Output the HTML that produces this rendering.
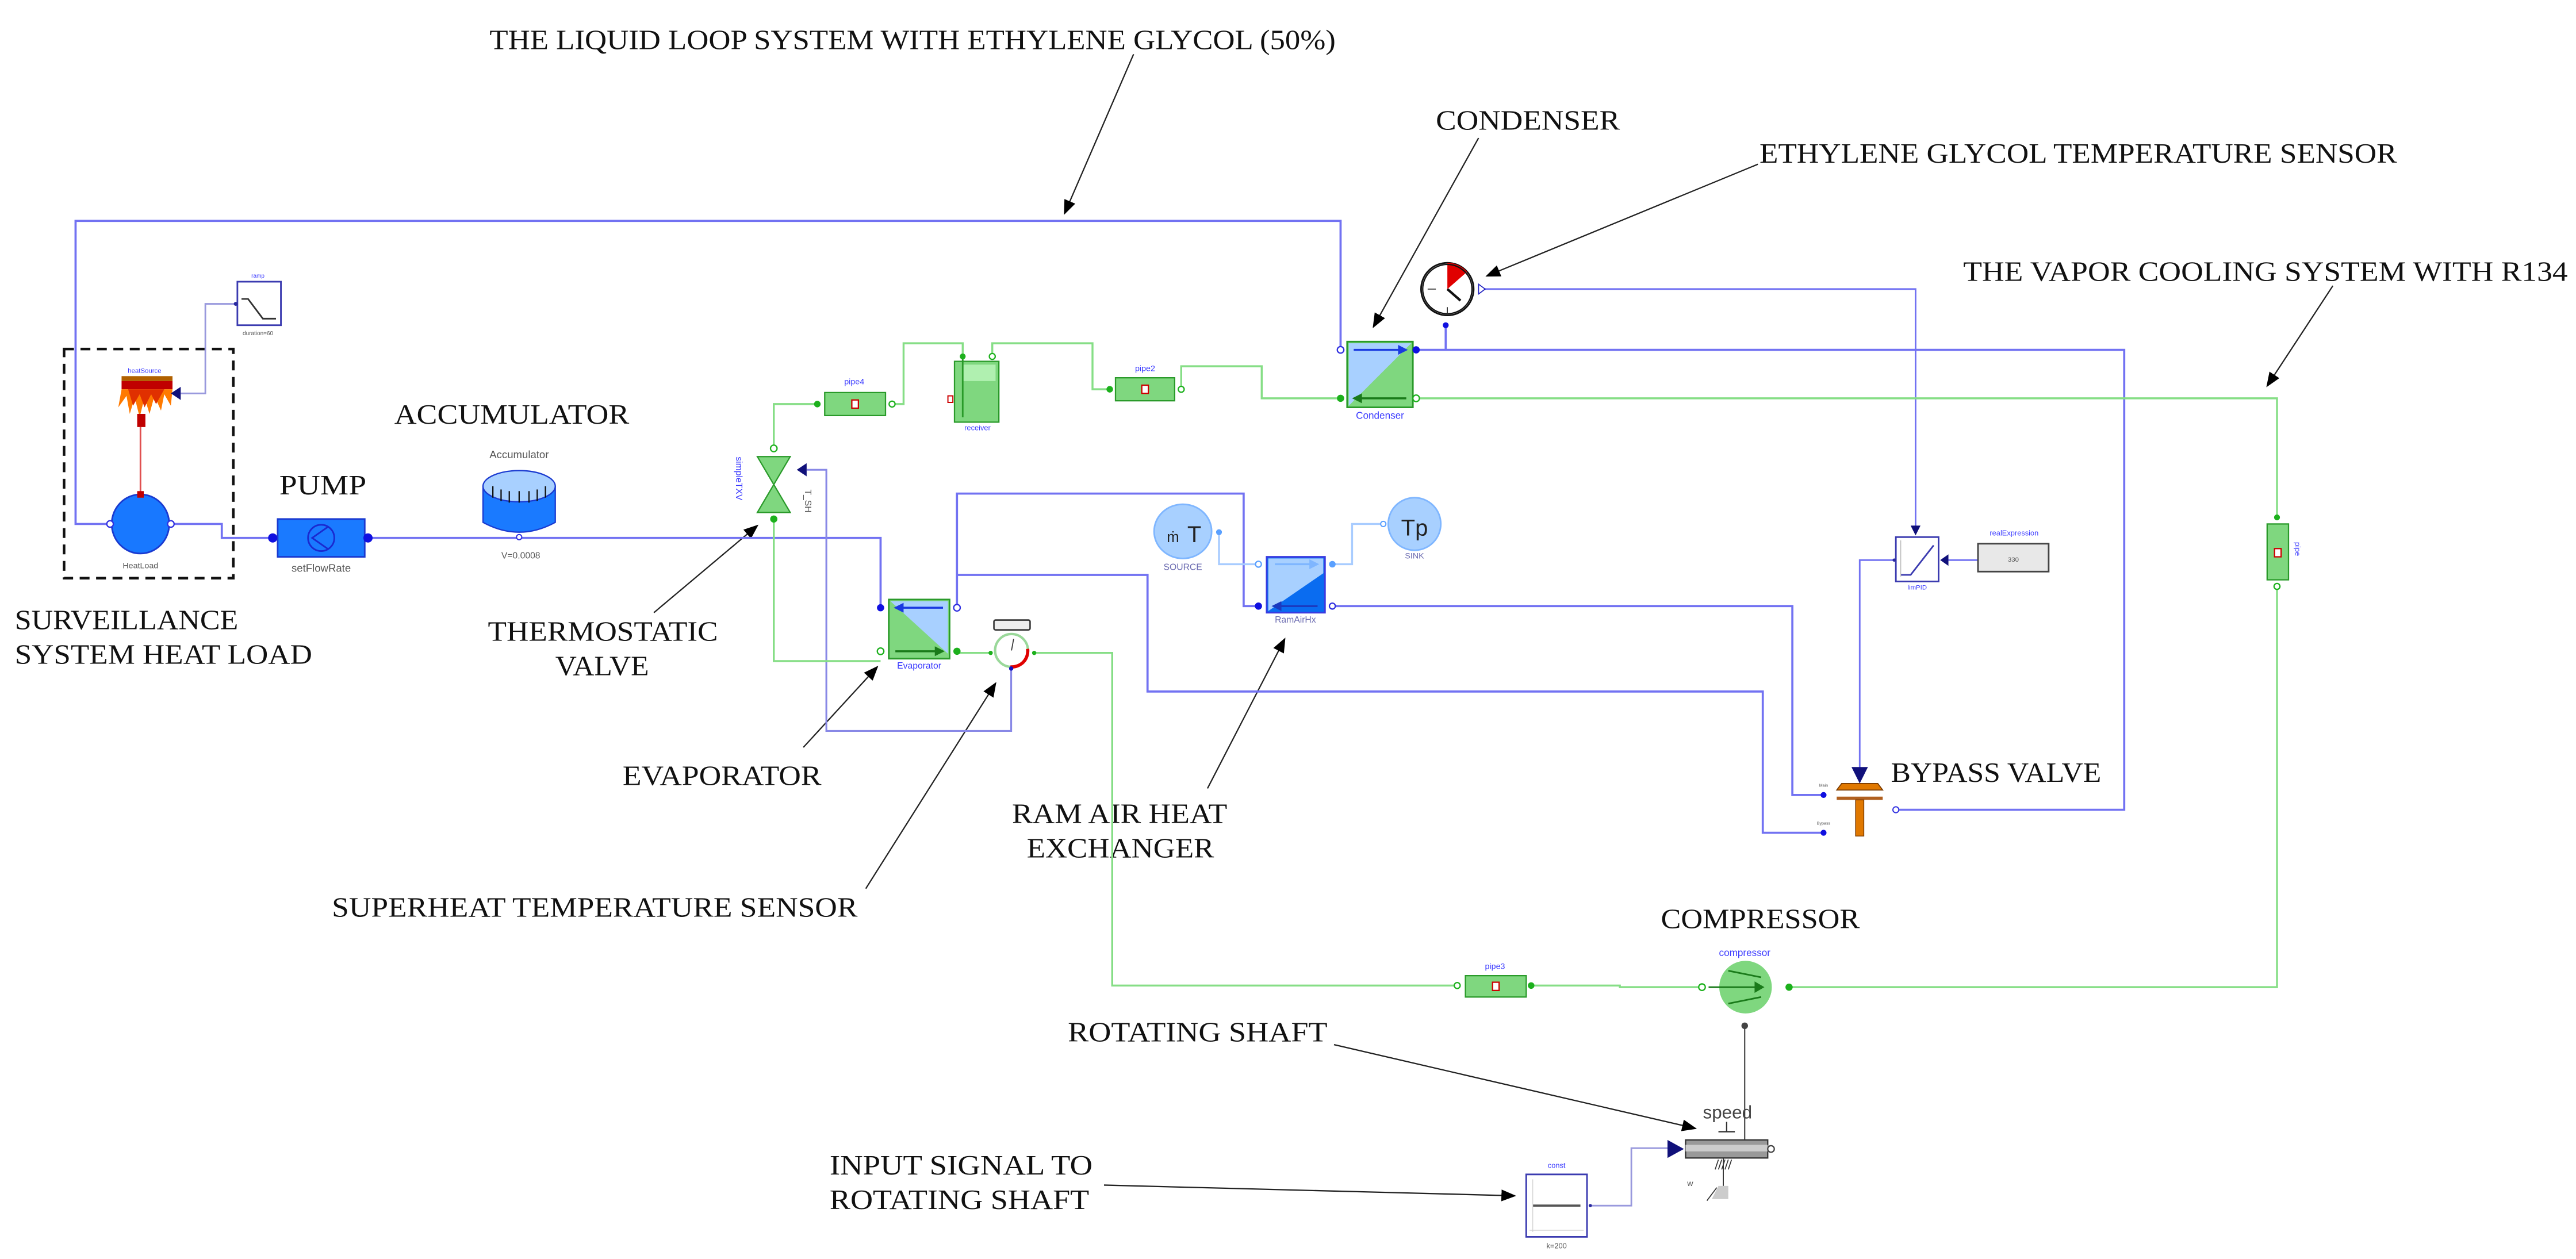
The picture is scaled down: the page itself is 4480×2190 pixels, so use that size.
<!DOCTYPE html>
<html><head><meta charset="utf-8"><style>
html,body{margin:0;padding:0;background:#fff;}
svg{display:block;}
.t{font-family:"Liberation Serif",serif;font-size:17px;fill:#111;}
.s{font-family:"Liberation Sans",sans-serif;fill:#3a3aff;}
.g{font-family:"Liberation Sans",sans-serif;fill:#555;}
.bl{stroke:#7272f2;stroke-width:1.3;fill:none;}
.gr{stroke:#86de86;stroke-width:1.2;fill:none;}
.lb{stroke:#a8ccff;stroke-width:1.2;fill:none;}
.ar{stroke:#222;stroke-width:0.8;fill:none;}
</style></head><body>
<svg width="4480" height="2190" viewBox="0 0 1568 766.5" xmlns="http://www.w3.org/2000/svg">
<defs>
<marker id="ah" viewBox="0 0 10 10" refX="9" refY="5" markerWidth="9" markerHeight="9" markerUnits="userSpaceOnUse" orient="auto"><path d="M0,1 L10,5 L0,9 z" fill="#000"/></marker>
</defs>
<rect width="1568" height="766.5" fill="#fff"/>

<!-- annotation texts -->
<text class="t" x="298" y="30" textLength="515" lengthAdjust="spacingAndGlyphs">THE LIQUID LOOP SYSTEM WITH ETHYLENE GLYCOL (50%)</text>
<text class="t" x="874" y="79" textLength="112" lengthAdjust="spacingAndGlyphs">CONDENSER</text>
<text class="t" x="1071" y="99" textLength="388" lengthAdjust="spacingAndGlyphs">ETHYLENE GLYCOL TEMPERATURE SENSOR</text>
<text class="t" x="1195" y="171" textLength="368" lengthAdjust="spacingAndGlyphs">THE VAPOR COOLING SYSTEM WITH R134</text>
<text class="t" x="240" y="258" textLength="143" lengthAdjust="spacingAndGlyphs">ACCUMULATOR</text>
<text class="t" x="170" y="301" textLength="53" lengthAdjust="spacingAndGlyphs">PUMP</text>
<text class="t" x="9" y="383" textLength="136" lengthAdjust="spacingAndGlyphs">SURVEILLANCE</text>
<text class="t" x="9" y="404" textLength="181" lengthAdjust="spacingAndGlyphs">SYSTEM HEAT LOAD</text>
<text class="t" x="297" y="390" textLength="140" lengthAdjust="spacingAndGlyphs">THERMOSTATIC</text>
<text class="t" x="338" y="411" textLength="57" lengthAdjust="spacingAndGlyphs">VALVE</text>
<text class="t" x="379" y="478" textLength="121" lengthAdjust="spacingAndGlyphs">EVAPORATOR</text>
<text class="t" x="616" y="501" textLength="131" lengthAdjust="spacingAndGlyphs">RAM AIR HEAT</text>
<text class="t" x="625" y="522" textLength="114" lengthAdjust="spacingAndGlyphs">EXCHANGER</text>
<text class="t" x="202" y="558" textLength="320" lengthAdjust="spacingAndGlyphs">SUPERHEAT TEMPERATURE SENSOR</text>
<text class="t" x="1151" y="476" textLength="128" lengthAdjust="spacingAndGlyphs">BYPASS VALVE</text>
<text class="t" x="1011" y="565" textLength="121" lengthAdjust="spacingAndGlyphs">COMPRESSOR</text>
<text class="t" x="650" y="634" textLength="158" lengthAdjust="spacingAndGlyphs">ROTATING SHAFT</text>
<text class="t" x="505" y="715" textLength="160" lengthAdjust="spacingAndGlyphs">INPUT SIGNAL TO</text>
<text class="t" x="505" y="736" textLength="158" lengthAdjust="spacingAndGlyphs">ROTATING SHAFT</text>

<!-- annotation arrows -->
<line class="ar" x1="690" y1="33" x2="648" y2="130" marker-end="url(#ah)"/>
<line class="ar" x1="900" y1="84" x2="836" y2="199" marker-end="url(#ah)"/>
<line class="ar" x1="1070" y1="100" x2="905" y2="168" marker-end="url(#ah)"/>
<line class="ar" x1="1420" y1="174" x2="1380" y2="235" marker-end="url(#ah)"/>
<line class="ar" x1="398" y1="373" x2="461" y2="320" marker-end="url(#ah)"/>
<line class="ar" x1="489" y1="455" x2="534" y2="406" marker-end="url(#ah)"/>
<line class="ar" x1="527" y1="541" x2="606" y2="416" marker-end="url(#ah)"/>
<line class="ar" x1="735" y1="480" x2="782" y2="389" marker-end="url(#ah)"/>
<line class="ar" x1="812" y1="636" x2="1032" y2="687" marker-end="url(#ah)"/>
<line class="ar" x1="672" y1="721.5" x2="922" y2="728" marker-end="url(#ah)"/>

<!-- dashed box -->
<rect x="39" y="212.5" width="103" height="139.5" fill="none" stroke="#111" stroke-width="1.6" stroke-dasharray="6,4"/>

<!-- blue connectors -->
<polyline class="bl" points="66,319 46,319 46,134.5 816,134.5 816,213"/>
<polyline class="bl" points="104,319 135,319 135,327.5 166,327.5"/>
<polyline class="bl" points="224,327.5 536,327.5 536,370"/>
<polyline class="bl" points="582.5,370 582.5,300.5 757,300.5 757,369 766,369"/>
<polyline class="bl" points="582.5,350 698.5,350 698.5,421 1073,421 1073,507 1110,507"/>
<polyline class="bl" points="811,369 1091,369 1091,484 1110,484"/>
<polyline class="bl" points="862,213 1293,213 1293,493 1154,493"/>
<polyline class="bl" points="880,198 880,213"/>
<polyline class="bl" points="902,176 1166,176 1166,323" style="stroke-width:1"/>
<polyline class="bl" points="1153,341 1132,341 1132,468" style="stroke-width:1"/>
<polyline class="bl" points="491,286 503,286 503,445 615.5,445 615.5,407" style="stroke-width:1.1;stroke:#8888e6"/>
<polyline class="bl" points="143,185 125,185 125,239.5 110,239.5" style="stroke:#9999dd;stroke-width:1"/>
<polyline class="bl" points="968,734 993,734 993,699 1015,699" style="stroke:#9999dd;stroke-width:1"/>
<polyline class="bl" points="1204,341 1186,341" style="stroke-width:1"/>
<line x1="1062" y1="625" x2="1062" y2="699" stroke="#333" stroke-width="0.7"/>
<line x1="85.5" y1="260" x2="85.5" y2="301" stroke="#e05050" stroke-width="1"/>
<!-- light-blue air -->
<polyline class="lb" points="742,324 742,343.5 766,343.5"/>
<polyline class="lb" points="811,343.5 823,343.5 823,319 841,319"/>

<!-- green connectors -->
<polyline class="gr" points="471,273 471,246 497,246"/>
<polyline class="gr" points="543,246 550,246 550,209 586,209 586,217"/>
<polyline class="gr" points="604,217 604,209 665,209 665,237 675,237"/>
<polyline class="gr" points="719,237 719,223 768,223 768,242.5 816,242.5"/>
<polyline class="gr" points="862,242.5 1386,242.5 1386,315"/>
<polyline class="gr" points="1386,357 1386,601 1089,601"/>
<polyline class="gr" points="1036,601 986,601 986,600 932,600"/>
<polyline class="gr" points="887,600 677,600 677,397.5 629.5,397.5"/>
<polyline class="gr" points="471,316 471,402.5 536,402.5"/>
<polyline class="gr" points="582.5,397.5 603,397.5"/>

<!-- ramp -->
<text class="s" x="157" y="169" font-size="3.5" text-anchor="middle">ramp</text>
<rect x="144.5" y="171.5" width="26.5" height="26.5" fill="#fff" stroke="#3b3bb0" stroke-width="1"/>
<polyline points="147,182 151,182 160,194 168,194" fill="none" stroke="#333" stroke-width="1"/>
<text class="g" x="157" y="204" font-size="3.5" text-anchor="middle">duration=60</text>
<circle cx="143.5" cy="185" r="1.2" fill="#2a2aa0"/>

<!-- heat source -->
<text class="s" x="88" y="227" font-size="4" text-anchor="middle">heatSource</text>
<rect x="74" y="229" width="31" height="3" fill="#b06000"/>
<rect x="74" y="232" width="31" height="5" fill="#c00000"/>
<path d="M74,237 L72,248 L77,241 L79,252 L82,242 L85,254 L88,242 L91,252 L94,241 L98,250 L100,240 L104,247 L105,237 Z" fill="#ff7a00"/>
<path d="M78,237 L81,247 L85,240 L88,248 L92,240 L95,246 L100,237 Z" fill="#e03000"/>
<rect x="83.5" y="252" width="5" height="8" fill="#c00000"/>
<path d="M104,239.5 L110,235.5 L110,243.5 Z" fill="#10107a"/>

<!-- heatload -->
<ellipse cx="85.5" cy="319" rx="17.5" ry="18" fill="#1878ff" stroke="#1a3ad0" stroke-width="1"/>
<rect x="83.5" y="299" width="4" height="4" fill="#c00000"/>
<circle cx="67" cy="319" r="2" fill="#fff" stroke="#3030e0" stroke-width="0.8"/>
<circle cx="104" cy="319" r="2" fill="#fff" stroke="#3030e0" stroke-width="0.8"/>
<text class="g" x="85.5" y="346" font-size="5" text-anchor="middle">HeatLoad</text>

<!-- pump -->
<rect x="169" y="316" width="53" height="23" fill="#1a7aff" stroke="#1a3ad0" stroke-width="1"/>
<circle cx="195.5" cy="327.5" r="8" fill="none" stroke="#1a2ad0" stroke-width="1"/>
<polyline points="200,320.5 190,327.5 200,334.5" fill="none" stroke="#1a2ad0" stroke-width="1"/>
<circle cx="166" cy="327.5" r="2.8" fill="#1010e0"/>
<circle cx="224" cy="327.5" r="2.8" fill="#1010e0"/>
<text class="g" x="195.5" y="348" font-size="6.5" text-anchor="middle" fill="#444">setFlowRate</text>

<!-- accumulator -->
<text class="g" x="316" y="279" font-size="6.5" text-anchor="middle" fill="#333">Accumulator</text>
<path d="M294,296 L294,318 Q316,330 338,318 L338,296 Z" fill="#1a7aff" stroke="#1a3ad0" stroke-width="0.8"/>
<ellipse cx="316" cy="296" rx="22" ry="9.5" fill="#a8d0ff" stroke="#1a3ad0" stroke-width="0.8"/>
<g stroke="#111" stroke-width="0.8"><line x1="300" y1="296" x2="300" y2="303"/><line x1="305" y1="298" x2="305" y2="305"/><line x1="310" y1="299" x2="310" y2="306"/><line x1="316" y1="299" x2="316" y2="306"/><line x1="322" y1="299" x2="322" y2="306"/><line x1="327" y1="298" x2="327" y2="305"/><line x1="332" y1="296" x2="332" y2="303"/></g>
<circle cx="316" cy="327" r="1.6" fill="#fff" stroke="#3030e0" stroke-width="0.7"/>
<text class="g" x="317" y="340" font-size="5.5" text-anchor="middle">V=0.0008</text>

<!-- TXV -->
<path d="M461,278 L481,278 L461,312 L481,312 Z" fill="#7fd77f" stroke="#2a9a2a" stroke-width="0.8"/>
<circle cx="471" cy="273" r="2" fill="#fff" stroke="#1cb01c" stroke-width="0.8"/>
<circle cx="471" cy="316" r="2.2" fill="#1cb01c"/>
<text class="s" x="0" y="0" font-size="5.5" transform="translate(448,278) rotate(90)">simpleTXV</text>
<text class="g" x="0" y="0" font-size="5.5" fill="#333" transform="translate(490,298) rotate(90)">T_SH</text>
<path d="M485,286 L491,282 L491,290 Z" fill="#10107a"/>

<!-- pipe4 -->
<text class="s" x="520" y="234" font-size="5" text-anchor="middle">pipe4</text>
<rect x="502" y="239" width="37" height="14" fill="#7fd77f" stroke="#2a9a2a" stroke-width="0.8"/>
<rect x="518.5" y="243.5" width="4" height="5" fill="#fff" stroke="#c00" stroke-width="0.8"/>
<circle cx="497.5" cy="246" r="2" fill="#1cb01c"/>
<circle cx="543" cy="246" r="1.8" fill="#fff" stroke="#1cb01c" stroke-width="0.8"/>

<!-- receiver -->
<rect x="581" y="220" width="27" height="37" fill="#7fd77f" stroke="#2a9a2a" stroke-width="0.8"/>
<rect x="586" y="222" width="20" height="10" fill="#b0f0b0"/>
<line x1="586" y1="217" x2="586" y2="254" stroke="#2a9a2a" stroke-width="1"/>
<rect x="577" y="241" width="3" height="4" fill="#fff" stroke="#c00" stroke-width="0.7"/>
<circle cx="586" cy="217" r="1.8" fill="#1cb01c"/>
<circle cx="604" cy="217" r="1.8" fill="#fff" stroke="#1cb01c" stroke-width="0.8"/>
<text class="s" x="595" y="262" font-size="4.5" text-anchor="middle">receiver</text>

<!-- pipe2 -->
<text class="s" x="697" y="226" font-size="5" text-anchor="middle">pipe2</text>
<rect x="679" y="230" width="36" height="14" fill="#7fd77f" stroke="#2a9a2a" stroke-width="0.8"/>
<rect x="695" y="234.5" width="4" height="5" fill="#fff" stroke="#c00" stroke-width="0.8"/>
<circle cx="675.5" cy="237" r="2" fill="#1cb01c"/>
<circle cx="719" cy="237" r="1.8" fill="#fff" stroke="#1cb01c" stroke-width="0.8"/>

<!-- condenser -->
<rect x="820" y="208" width="40" height="40" fill="#7fd77f" stroke="#2a9a2a" stroke-width="1"/>
<path d="M821,209 L859,209 L821,247 Z" fill="#a8d0ff"/>
<line x1="824" y1="213" x2="854" y2="213" stroke="#1a3ae0" stroke-width="1.2"/>
<path d="M857,213 L851,210 L851,216 Z" fill="#1a3ae0"/>
<line x1="828" y1="242.5" x2="856" y2="242.5" stroke="#1a7a1a" stroke-width="1.2"/>
<path d="M823,242.5 L829,239.5 L829,245.5 Z" fill="#1a7a1a"/>
<circle cx="816" cy="213" r="2" fill="#fff" stroke="#3030e0" stroke-width="0.8"/>
<circle cx="862" cy="213" r="2.2" fill="#1010e0"/>
<circle cx="816" cy="242.5" r="2.2" fill="#1cb01c"/>
<circle cx="862" cy="242.5" r="2" fill="#fff" stroke="#1cb01c" stroke-width="0.8"/>
<text class="s" x="840" y="255" font-size="6" text-anchor="middle">Condenser</text>

<!-- glycol temperature sensor -->
<circle cx="881" cy="176" r="16" fill="#fff" stroke="#111" stroke-width="1"/>
<path d="M881,160 A16,16 0 0 1 893,165.5 L881,176 Z" fill="#e00000"/>
<circle cx="881" cy="176" r="15" fill="none" stroke="#111" stroke-width="0.8"/>
<line x1="881" y1="176" x2="889" y2="183" stroke="#111" stroke-width="1.5"/>
<line x1="869" y1="176" x2="874" y2="176" stroke="#333" stroke-width="0.6"/>
<line x1="881" y1="187" x2="881" y2="191" stroke="#333" stroke-width="0.6"/>
<path d="M900,173 L904,176 L900,179 Z" fill="#fff" stroke="#2020c0" stroke-width="0.6"/>
<circle cx="880" cy="198" r="1.8" fill="#1010e0"/>

<!-- evaporator -->
<rect x="541" y="365" width="37" height="36" fill="#7fd77f" stroke="#2a9a2a" stroke-width="1"/>
<path d="M542,366 L577,366 L577,398 Z" fill="#a8d0ff"/>
<line x1="548" y1="370" x2="574" y2="370" stroke="#1a3ae0" stroke-width="1.2"/>
<path d="M544,370 L550,367 L550,373 Z" fill="#1a3ae0"/>
<line x1="545" y1="396.5" x2="570" y2="396.5" stroke="#1a7a1a" stroke-width="1.2"/>
<path d="M575,396.5 L569,393.5 L569,399.5 Z" fill="#1a7a1a"/>
<circle cx="536" cy="370" r="2.2" fill="#1010e0"/>
<circle cx="582.5" cy="370" r="2" fill="#fff" stroke="#3030e0" stroke-width="0.8"/>
<circle cx="536" cy="396.5" r="2" fill="#fff" stroke="#1cb01c" stroke-width="0.8"/>
<circle cx="582.5" cy="396.5" r="2.2" fill="#1cb01c"/>
<text class="s" x="559.5" y="407" font-size="5.5" text-anchor="middle">Evaporator</text>

<!-- superheat sensor -->
<rect x="605" y="377.5" width="22" height="6" rx="1" fill="#eee" stroke="#333" stroke-width="0.9"/>
<circle cx="615.7" cy="396" r="10" fill="#fff" stroke="#9ad89a" stroke-width="1.5"/>
<path d="M623,403 A10,10 0 0 1 615,406" fill="none" stroke="#e00000" stroke-width="2"/>
<path d="M625.5,395 A10,10 0 0 1 623,403" fill="none" stroke="#e00000" stroke-width="2"/>
<line x1="615.7" y1="396" x2="617" y2="389" stroke="#333" stroke-width="0.6"/>
<circle cx="603" cy="397.5" r="1.3" fill="#1cb01c"/>
<circle cx="629.5" cy="397.5" r="1.3" fill="#1cb01c"/>
<circle cx="615.5" cy="407" r="1.3" fill="#1010c0"/>

<!-- SOURCE -->
<ellipse cx="720" cy="323.5" rx="17.5" ry="16.5" fill="#a8d0ff" stroke="#7fb6ff" stroke-width="1"/>
<text x="714" y="330" font-family="Liberation Sans,sans-serif" font-size="9" fill="#222" text-anchor="middle">ṁ</text>
<text x="727" y="330" font-family="Liberation Sans,sans-serif" font-size="14" fill="#222" text-anchor="middle">T</text>
<circle cx="742" cy="324" r="1.8" fill="#5aa0ff"/>
<text x="720" y="347" font-family="Liberation Sans,sans-serif" font-size="5.5" fill="#6a6ab0" text-anchor="middle">SOURCE</text>

<!-- SINK -->
<ellipse cx="861" cy="319" rx="16" ry="16" fill="#a8d0ff" stroke="#7fb6ff" stroke-width="1"/>
<text x="861" y="326" font-family="Liberation Sans,sans-serif" font-size="14" fill="#222" text-anchor="middle">Tp</text>
<circle cx="842" cy="319" r="1.6" fill="#fff" stroke="#5aa0ff" stroke-width="0.7"/>
<text x="861" y="340" font-family="Liberation Sans,sans-serif" font-size="5" fill="#6a6ab0" text-anchor="middle">SINK</text>

<!-- RamAirHx -->
<rect x="771" y="339" width="35.5" height="34" fill="#0a6cf0" stroke="#3a3ae0" stroke-width="1"/>
<path d="M772,340 L805.5,340 L805.5,349 L772,372 Z" fill="#a8d0ff"/>
<line x1="776" y1="343.5" x2="800" y2="343.5" stroke="#7fb6ff" stroke-width="1.2"/>
<path d="M803,343.5 L797,340.5 L797,346.5 Z" fill="#7fb6ff"/>
<line x1="778" y1="369" x2="802" y2="369" stroke="#1a3ac0" stroke-width="1.2"/>
<path d="M774,369 L780,366 L780,372 Z" fill="#1a3ac0"/>
<circle cx="766" cy="343.5" r="1.8" fill="#fff" stroke="#5aa0ff" stroke-width="0.8"/>
<circle cx="811" cy="343.5" r="2" fill="#5aa0ff"/>
<circle cx="766" cy="369" r="2.2" fill="#1010e0"/>
<circle cx="811" cy="369" r="1.8" fill="#fff" stroke="#3030e0" stroke-width="0.8"/>
<text x="788.5" y="379" font-family="Liberation Sans,sans-serif" font-size="5.5" fill="#6a6ab0" text-anchor="middle">RamAirHx</text>

<!-- PID -->
<text class="s" x="1226" y="326" font-size="4.5" text-anchor="middle">realExpression</text>
<rect x="1204" y="331" width="43" height="17" fill="#e8e8e8" stroke="#444" stroke-width="1"/>
<text x="1225.5" y="342" font-family="Liberation Sans,sans-serif" font-size="4" fill="#555" text-anchor="middle">330</text>
<rect x="1154" y="327" width="26" height="27" fill="#fff" stroke="#3b3bb0" stroke-width="1"/>
<polyline points="1157,350 1163,350 1177,332" fill="none" stroke="#3b3bb0" stroke-width="1"/>
<line x1="1157" y1="329" x2="1157" y2="351" stroke="#aaa" stroke-width="0.4"/>
<path d="M1163,320 L1169,320 L1166,326 Z" fill="#10107a"/>
<path d="M1186,337.5 L1186,344.5 L1181,341 Z" fill="#10107a"/>
<circle cx="1153" cy="341" r="1" fill="#2a2aa0"/>
<text class="s" x="1167" y="359" font-size="4" text-anchor="middle">limPID</text>

<!-- bypass valve -->
<path d="M1127,467 L1137,467 L1132,477 Z" fill="#10107a"/>
<path d="M1118,481 L1121,477 L1143,477 L1146,481 Z" fill="#e07800" stroke="#7a3a00" stroke-width="0.6"/>
<rect x="1118" y="485" width="28" height="2" fill="#b06020"/>
<rect x="1129.5" y="487" width="5" height="22" fill="#e07800" stroke="#7a3a00" stroke-width="0.5"/>
<circle cx="1110" cy="484" r="1.8" fill="#1010e0"/>
<circle cx="1110" cy="507" r="1.8" fill="#1010e0"/>
<circle cx="1154" cy="493" r="1.8" fill="#fff" stroke="#3030e0" stroke-width="0.7"/>
<text class="g" x="1110" y="479" font-size="2.5" text-anchor="middle">Main</text>
<text class="g" x="1110" y="502" font-size="2.5" text-anchor="middle">Bypass</text>

<!-- right pipe -->
<rect x="1380" y="319" width="13" height="34" fill="#7fd77f" stroke="#2a9a2a" stroke-width="0.8"/>
<rect x="1384.5" y="334" width="4" height="5" fill="#fff" stroke="#c00" stroke-width="0.8"/>
<circle cx="1386" cy="315" r="1.8" fill="#1cb01c"/>
<circle cx="1386" cy="357" r="1.8" fill="#fff" stroke="#1cb01c" stroke-width="0.8"/>
<text class="s" x="0" y="0" font-size="4.5" transform="translate(1397,330) rotate(90)">pipe</text>

<!-- pipe3 -->
<text class="s" x="910" y="590" font-size="5" text-anchor="middle">pipe3</text>
<rect x="892" y="594" width="37" height="13" fill="#7fd77f" stroke="#2a9a2a" stroke-width="0.8"/>
<rect x="908.5" y="598" width="4" height="5" fill="#fff" stroke="#c00" stroke-width="0.8"/>
<circle cx="887" cy="600" r="1.8" fill="#fff" stroke="#1cb01c" stroke-width="0.8"/>
<circle cx="932" cy="600" r="2" fill="#1cb01c"/>

<!-- compressor -->
<text class="s" x="1062" y="582" font-size="6" text-anchor="middle">compressor</text>
<circle cx="1062.5" cy="601" r="16" fill="#7fd77f"/>
<line x1="1052" y1="591" x2="1072" y2="595" stroke="#1a7a1a" stroke-width="1"/>
<line x1="1052" y1="611" x2="1072" y2="607" stroke="#1a7a1a" stroke-width="1"/>
<line x1="1040" y1="601" x2="1072" y2="601" stroke="#1a7a1a" stroke-width="1"/>
<path d="M1074,601 L1068,597.5 L1068,604.5 Z" fill="#1a7a1a"/>
<circle cx="1036" cy="601" r="2" fill="#fff" stroke="#1cb01c" stroke-width="0.8"/>
<circle cx="1089" cy="601" r="2.2" fill="#1cb01c"/>
<circle cx="1062" cy="624.5" r="2" fill="#444"/>

<!-- speed -->
<text x="1051.5" y="681" font-family="Liberation Sans,sans-serif" font-size="11" fill="#444" text-anchor="middle">speed</text>
<line x1="1051" y1="683" x2="1051" y2="689" stroke="#333" stroke-width="0.8"/>
<line x1="1046" y1="689" x2="1056" y2="689" stroke="#333" stroke-width="0.8"/>
<rect x="1026" y="694" width="50" height="11" fill="#999" stroke="#333" stroke-width="0.8"/>
<rect x="1026" y="697" width="50" height="4" fill="#ccc"/>
<circle cx="1078" cy="699.5" r="2" fill="#fff" stroke="#444" stroke-width="0.8"/>
<path d="M1015,694 L1025,699.5 L1015,705 Z" fill="#10107a"/>
<g stroke="#333" stroke-width="0.6"><line x1="1046" y1="706" x2="1044" y2="712"/><line x1="1048" y1="706" x2="1046" y2="712"/><line x1="1050" y1="706" x2="1048" y2="712"/><line x1="1052" y1="706" x2="1050" y2="712"/><line x1="1054" y1="706" x2="1052" y2="712"/><line x1="1049" y1="705" x2="1049" y2="722"/></g>
<text class="g" x="1027" y="722" font-size="5">w</text>
<path d="M1042,730 L1046,722 L1052,722 L1052,730 Z" fill="#ccc"/>
<line x1="1039" y1="731" x2="1045" y2="723" stroke="#333" stroke-width="0.6"/>

<!-- const -->
<text class="s" x="947.5" y="711" font-size="4.5" text-anchor="middle">const</text>
<rect x="929" y="715" width="37" height="38" fill="#fff" stroke="#3b3bb0" stroke-width="1"/>
<line x1="933" y1="734" x2="962" y2="734" stroke="#555" stroke-width="1.3"/>
<line x1="933" y1="718" x2="933" y2="750" stroke="#ccc" stroke-width="0.4"/>
<line x1="931" y1="749" x2="964" y2="749" stroke="#ccc" stroke-width="0.4"/>
<circle cx="968" cy="734" r="1" fill="#2a2aa0"/>
<text class="g" x="947.5" y="760" font-size="4.5" text-anchor="middle">k=200</text>
</svg>
</body></html>
